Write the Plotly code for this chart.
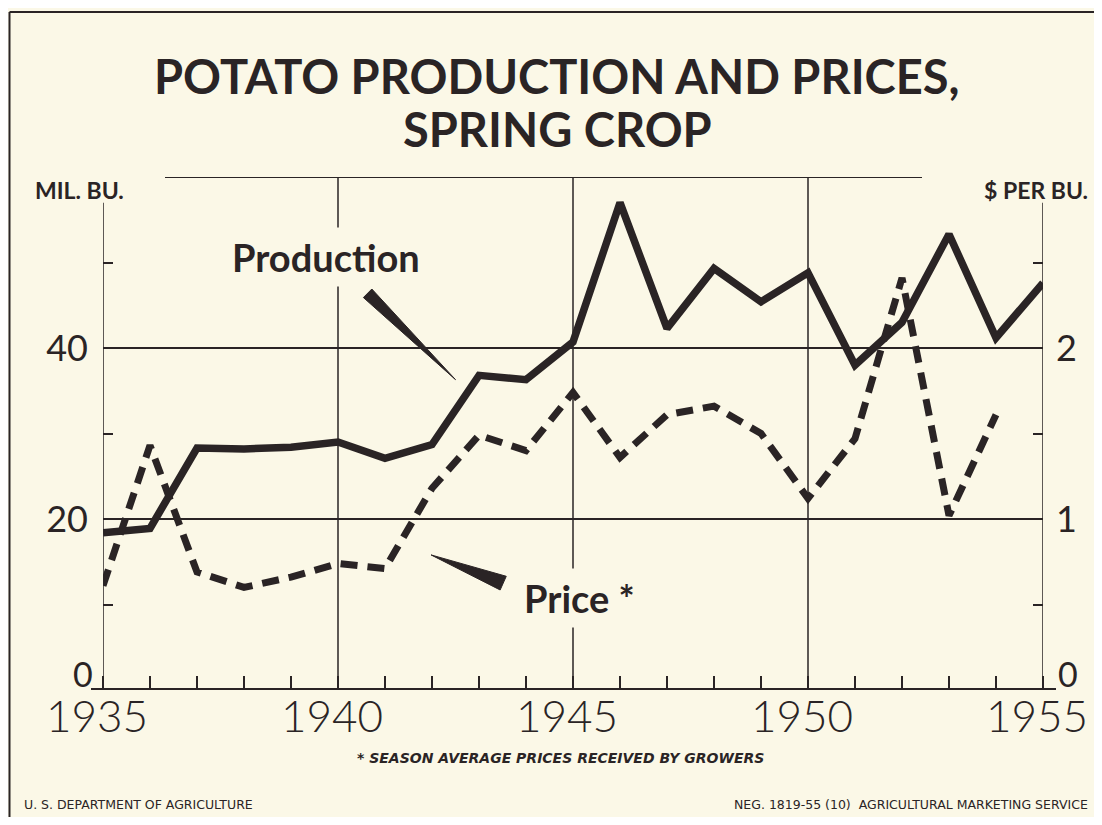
import plotly.graph_objects as go

# ---- data ----
years = list(range(1935, 1956))
production = [18.4, 18.9, 28.3, 28.2, 28.4, 29.0, 27.1, 28.7, 36.8, 36.3, 40.7,
              57.0, 42.3, 49.3, 45.4, 48.8, 38.0, 43.0, 53.3, 41.2, 47.6]
price_years = list(range(1935, 1955))
price = [0.61, 1.43, 0.69, 0.60, 0.66, 0.74, 0.71, 1.18, 1.49, 1.40, 1.74,
         1.36, 1.61, 1.66, 1.50, 1.12, 1.47, 2.41, 1.02, 1.61]
x_ticks = [1935, 1940, 1945, 1950, 1955]
x_tick_labels = ["1935", "1940", "1945", "1950", "1955"]
y_ticks = [20, 40]
y2_ticks = [1, 2]

INK = "#2a2425"
BG = "#fbf8e7"
OFF = 8                      # browser body margin
W, H = 1102 - 2 * OFF, 825 - 2 * OFF
# plot area in screen pixels
SL, SR, ST, SB = 103, 1043, 177, 690
L, R, T, B = SL - OFF, SR - OFF, ST - OFF, SB - OFF
NBSP = "\u00a0"


def px(xs):
    """screen x pixel -> paper"""
    return (xs - OFF - L) / (R - L)


def py(ys):
    """screen y pixel -> paper"""
    return (B - (ys - OFF)) / (B - T)


fig = go.Figure()
fig.add_trace(go.Scatter(x=years, y=production, mode="lines", name="Production",
                         line=dict(color=INK, width=7.5), yaxis="y"))
fig.add_trace(go.Scatter(x=price_years, y=price, mode="lines", name="Price",
                         line=dict(color=INK, width=7, dash="17px,10px"), yaxis="y2"))

fig.update_layout(
    width=W, height=H, autosize=False,
    margin=dict(l=L, r=W - R, t=T, b=H - B, pad=0, autoexpand=False),
    paper_bgcolor=BG, plot_bgcolor=BG,
    showlegend=False,
    xaxis=dict(range=[1935, 1955], tickvals=x_ticks,
               ticktext=[t + NBSP for t in x_tick_labels], automargin=False,
               showgrid=False, zeroline=False, showline=False, ticks="",
               tickfont=dict(family="Lato", size=44, color=INK, weight=300),
               ticklabelstandoff=-3, ticklabeloverflow="allow",
               minor=dict(tickmode="linear", tick0=1935, dtick=1, ticks="inside",
                          ticklen=14, tickwidth=1.5, tickcolor=INK, showgrid=False)),
    yaxis=dict(range=[0, 60], tickvals=y_ticks, showgrid=True, gridcolor=INK,
               gridwidth=1.5, zeroline=False, showline=False, ticks="", automargin=False,
               tickfont=dict(family="Lato", size=36, color=INK),
               ticklabelstandoff=14,
               minor=dict(tickmode="array", tickvals=[10, 30, 50], ticks="inside",
                          ticklen=10, tickwidth=1.5, tickcolor=INK, showgrid=False)),
    yaxis2=dict(range=[0, 3], overlaying="y", side="right", tickvals=y2_ticks,
                showgrid=False, zeroline=False, showline=False, ticks="", automargin=False,
                tickfont=dict(family="Lato", size=36, color=INK),
                ticklabelstandoff=12,
                minor=dict(tickmode="array", tickvals=[0.5, 1.5, 2.5], ticks="inside",
                           ticklen=10, tickwidth=1.5, tickcolor=INK, showgrid=False)),
)

shapes = []
# vertical grid lines
for gx in [1940, 1945, 1950]:
    shapes.append(dict(type="line", xref="x", yref="paper", x0=gx, x1=gx, y0=0, y1=1,
                       line=dict(color=INK, width=1.5), layer="below"))
# side axes (start below the unit labels)
for ax_x in [1935, 1955]:
    shapes.append(dict(type="line", xref="x", yref="y", x0=ax_x, x1=ax_x, y0=0, y1=57,
                       line=dict(color=INK, width=1.5), layer="below"))
# top frame line at 60
shapes.append(dict(type="line", xref="paper", yref="y", x0=px(165), x1=px(922), y0=60, y1=60,
                   line=dict(color=INK, width=2)))
# bottom axis line
shapes.append(dict(type="line", xref="paper", yref="y", x0=px(91), x1=px(1056), y0=0, y1=0,
                   line=dict(color=INK, width=4)))
# outer border (left and top)
shapes.append(dict(type="line", xref="paper", yref="paper", x0=px(9.5), x1=px(9.5),
                   y0=py(12), y1=py(825), line=dict(color=INK, width=2)))
shapes.append(dict(type="line", xref="paper", yref="paper", x0=px(9.5), x1=px(1102),
                   y0=py(12), y1=py(12), line=dict(color=INK, width=2)))
# pointer wedges (label callouts)
shapes.append(dict(type="path", xref="x", yref="y", fillcolor=INK, line=dict(color=INK, width=1),
                   path="M 1940.72 46.9 L 1940.54 45.9 L 1942.50 36.3 Z"))
shapes.append(dict(type="path", xref="x", yref="y", fillcolor=INK, line=dict(color=INK, width=1),
                   path="M 1943.58 13.3 L 1943.45 11.7 L 1941.98 15.8 Z"))
fig.update_layout(shapes=shapes)

ann = []
ann.append(dict(text="POTATO PRODUCTION AND PRICES,", xref="paper", yref="paper",
                x=px(557), y=py(76), xanchor="center", yanchor="middle", showarrow=False,
                font=dict(family="Lato", size=47, color=INK, weight=700)))
ann.append(dict(text="SPRING CROP", xref="paper", yref="paper",
                x=px(557), y=py(129), xanchor="center", yanchor="middle", showarrow=False,
                font=dict(family="Lato", size=47, color=INK, weight=700)))
ann.append(dict(text="MIL. BU.", xref="paper", yref="paper", x=px(33), y=py(190),
                xanchor="left", yanchor="middle", showarrow=False,
                font=dict(family="Lato", size=23, color=INK, weight=700)))
ann.append(dict(text="$ PER BU.", xref="paper", yref="paper", x=px(1090), y=py(190),
                xanchor="right", yanchor="middle", showarrow=False,
                font=dict(family="Lato", size=23, color=INK, weight=700)))
# zero labels sit just above the base line
ann.append(dict(text="0", xref="paper", yref="paper", x=px(95), y=py(673),
                xanchor="right", yanchor="middle", showarrow=False,
                font=dict(family="Lato", size=34, color=INK)))
ann.append(dict(text="0", xref="paper", yref="paper", x=px(1056), y=py(673),
                xanchor="left", yanchor="middle", showarrow=False,
                font=dict(family="Lato", size=34, color=INK)))
ann.append(dict(text="Production", xref="x", yref="y", x=1937.6, y=50.6,
                xanchor="left", yanchor="middle", showarrow=False, bgcolor=BG, borderpad=6,
                font=dict(family="Lato", size=38, color=INK, weight=700)))
ann.append(dict(text="Price *", xref="x", yref="y", x=1943.8, y=10.8,
                xanchor="left", yanchor="middle", showarrow=False, bgcolor=BG, borderpad=6,
                font=dict(family="Lato", size=38, color=INK, weight=700)))
ann.append(dict(text="<b>*</b> <i>SEASON AVERAGE PRICES RECEIVED BY GROWERS</i>", xref="paper",
                yref="paper", x=px(560), y=py(758), xanchor="center", yanchor="middle",
                showarrow=False, font=dict(family="DejaVu Sans", size=14, color=INK, weight=600)))
ann.append(dict(text="U. S. DEPARTMENT OF AGRICULTURE", xref="paper", yref="paper",
                x=px(22), y=py(804), xanchor="left", yanchor="middle", showarrow=False,
                font=dict(family="DejaVu Sans", size=12.5, color=INK)))
ann.append(dict(text="NEG. 1819-55 (10)  AGRICULTURAL MARKETING SERVICE", xref="paper",
                yref="paper", x=px(1090), y=py(804), xanchor="right", yanchor="middle",
                showarrow=False, font=dict(family="DejaVu Sans", size=12.5, color=INK)))
fig.update_layout(annotations=ann)

fig.write_html("out.html")
